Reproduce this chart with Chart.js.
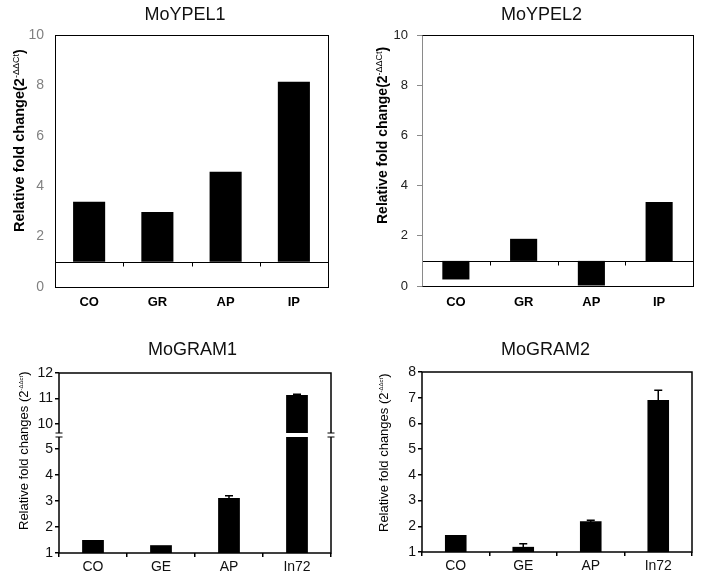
<!DOCTYPE html>
<html><head><meta charset="utf-8">
<script src="https://cdn.jsdelivr.net/npm/chart.js@4/dist/chart.umd.min.js"></script>
<style>
html,body{margin:0;padding:0;background:#fff;}
#wrap{position:relative;width:707px;height:578px;overflow:hidden;background:#fff;}
canvas{position:absolute;left:0;top:0;}
</style></head><body>
<div id="wrap">
<canvas id="c1" width="707" height="578"></canvas>
<canvas id="c2" width="707" height="578"></canvas>
<canvas id="c3" width="707" height="578"></canvas>
<canvas id="c4" width="707" height="578"></canvas>
</div>
<script>
// ---------- data ----------
const ypelCategories = ['CO', 'GR', 'AP', 'IP'];
const ypel1Values = [3.38, 2.98, 4.57, 8.14];
const ypel2Values = [0.26, 1.88, 0.02, 3.35];
const ypelTicks = [0, 2, 4, 6, 8, 10];

const gramCategories = ['CO', 'GE', 'AP', 'In72'];
const gram1Values = [1.5, 1.3, 3.12, 11.14];
const gram1Errors = [0, 0, 0.08, 0.03];
const gram1LowerTicks = [1, 2, 3, 4, 5];
const gram1UpperTicks = [10, 11, 12];
const gram2Values = [1.66, 1.2, 2.2, 6.91];
const gram2Errors = [0, 0.12, 0.03, 0.38];
const gram2Ticks = [1, 2, 3, 4, 5, 6, 7, 8];

const titles = ['MoYPEL1', 'MoYPEL2', 'MoGRAM1', 'MoGRAM2'];
const yTitleTop = ['Relative fold change(2', '-\u0394\u0394Ct', ')'];
const yTitleBottom = ['Relative fold changes (2', '-\u0394\u0394ct', ')'];

// ---------- styling helpers ----------
const FAM = '"Liberation Sans", Arial, sans-serif';

const decor = {
  id: 'decor',
  afterDatasetsDraw(chart, args, o) {
    const {ctx, chartArea: a, scales} = chart;
    ctx.save();
    // error bars
    chart.data.datasets.forEach((ds, d) => {
      if (!ds.errors) return;
      const meta = chart.getDatasetMeta(d);
      const ys = scales[meta.yAxisID];
      ds.data.forEach((v, i) => {
        const e = ds.errors[i];
        if (v == null || !e) return;
        const x = meta.data[i].x;
        const y1 = ys.getPixelForValue(v + e), y0 = ys.getPixelForValue(v - e);
        ctx.strokeStyle = '#000'; ctx.lineWidth = 1.5;
        ctx.beginPath();
        ctx.moveTo(x, y0); ctx.lineTo(x, y1);
        ctx.moveTo(x - o.cap, y1); ctx.lineTo(x + o.cap, y1);
        ctx.stroke();
      });
    });
    // baseline at value with ticks between categories
    if (o.baseline != null) {
      const y = Math.round(scales.y.getPixelForValue(o.baseline)) + 0.5;
      const xs = scales.x;
      ctx.strokeStyle = '#000'; ctx.lineWidth = 1;
      ctx.beginPath();
      ctx.moveTo(a.left, y); ctx.lineTo(a.right, y);
      for (let i = 0; i < xs.ticks.length - 1; i++) {
        const px = Math.round((xs.getPixelForValue(i) + xs.getPixelForValue(i + 1)) / 2) + 0.5;
        ctx.moveTo(px, y); ctx.lineTo(px, y + o.baseTick);
      }
      ctx.stroke();
    }
    // frame
    const lw = o.frameWidth;
    const off = lw === 1 ? 0.5 : 0;
    const L = Math.round(a.left) + off, R = Math.round(a.right) + off, T = Math.round(a.top) + off, B = Math.round(a.bottom) + off;
    ctx.lineWidth = lw; ctx.strokeStyle = '#000';
    ctx.strokeRect(L, T, R - L, B - T);
    if (o.leftColor) {
      ctx.strokeStyle = o.leftColor;
      ctx.beginPath(); ctx.moveTo(L, T); ctx.lineTo(L, B); ctx.stroke();
    }
    // axis break
    if (o.breakAxis) {
      const yb = scales[o.breakAxis].top;
      const g = o.breakGap;
      ctx.fillStyle = '#fff';
      ctx.fillRect(L - 5, yb - g / 2, R - L + 10, g);
      ctx.strokeStyle = '#000'; ctx.lineWidth = 1.2;
      ctx.beginPath();
      for (const x of [L, R]) {
        for (const yy of [yb - g / 2, yb + g / 2]) { ctx.moveTo(x - 3.5, yy); ctx.lineTo(x + 3.5, yy); }
      }
      ctx.stroke();
    }
    // chart title
    if (o.title) {
      ctx.font = o.title.font; ctx.fillStyle = '#111';
      ctx.textAlign = 'center'; ctx.textBaseline = 'middle';
      ctx.fillText(o.title.text, o.title.x, o.title.y);
    }
    // rotated y title with superscript
    if (o.yTitle) {
      const t = o.yTitle;
      ctx.translate(t.x, t.y); ctx.rotate(-Math.PI / 2);
      ctx.textBaseline = 'alphabetic'; ctx.textAlign = 'left'; ctx.fillStyle = t.color;
      let cx = 0;
      t.parts.forEach((p, i) => {
        ctx.font = t.fonts[i];
        ctx.fillText(p, cx, t.dys[i]);
        cx += ctx.measureText(p).width;
      });
    }
    ctx.restore();
  }
};

function fixedTicks(arr) { return s => { s.ticks = arr.map(v => ({value: v})); }; }
function fixW(w) { return s => { s.width = w; }; }
function fixH(h) { return s => { s.height = h; }; }

function baseOpts(pad, decorOpts) {
  return {
    responsive: false, animation: false, events: [],
    layout: {padding: pad},
    plugins: {
      legend: {display: false}, tooltip: {enabled: false}, title: {display: false},
      decor: decorOpts
    }
  };
}
const TITLE_FONT = '18px ' + FAM;

// ---------- Panel 1: MoYPEL1 ----------
(() => {
  const o = baseOpts({left: 0, right: 379, top: 35, bottom: 266}, {
    frameWidth: 1, baseline: 1, baseTick: 4, cap: 4,
    title: {text: titles[0], x: 185, y: 15, font: TITLE_FONT},
    yTitle: {x: 24, y: 232, color: '#000', parts: yTitleTop,
      fonts: ['bold 14.5px ' + FAM, '9px ' + FAM, 'bold 14.5px ' + FAM], dys: [0, -5, 0]}
  });
  o.scales = {
    x: {grid: {display: false, drawTicks: false}, border: {display: false},
      ticks: {font: {family: FAM, size: 13, weight: 'bold'}, color: '#000', padding: 8, autoSkip: false}, afterFit: fixH(25)},
    y: {min: 0, max: 10, grid: {display: false, drawTicks: false}, border: {display: false},
      ticks: {font: {family: FAM, size: 14}, color: '#808080', padding: 11, autoSkip: false},
      afterBuildTicks: fixedTicks(ypelTicks), afterFit: fixW(55)}
  };
  new Chart(document.getElementById('c1'), {
    type: 'bar',
    data: {labels: ypelCategories, datasets: [{data: ypel1Values, base: 1, backgroundColor: '#000',
      barPercentage: 0.47, categoryPercentage: 1}]},
    options: o, plugins: [decor]
  });
})();

// ---------- Panel 2: MoYPEL2 ----------
(() => {
  const o = baseOpts({left: 353, right: 14, top: 35, bottom: 267}, {
    frameWidth: 1, leftColor: '#8a8a8a', baseline: 1, baseTick: 4, cap: 4,
    title: {text: titles[1], x: 541.5, y: 15, font: TITLE_FONT},
    yTitle: {x: 386.5, y: 224, color: '#000', parts: yTitleTop,
      fonts: ['bold 14px ' + FAM, '9px ' + FAM, 'bold 14px ' + FAM], dys: [0, -5, 0]}
  });
  o.scales = {
    x: {grid: {display: false, drawTicks: false}, border: {display: false},
      ticks: {font: {family: FAM, size: 13, weight: 'bold'}, color: '#000', padding: 9, autoSkip: false}, afterFit: fixH(25)},
    y: {min: 0, max: 10, grid: {display: true, drawOnChartArea: false, drawTicks: true, tickLength: 5, color: '#8a8a8a'},
      border: {display: false},
      ticks: {font: {family: FAM, size: 13}, color: '#222', padding: 9, autoSkip: false},
      afterBuildTicks: fixedTicks(ypelTicks), afterFit: fixW(69)}
  };
  new Chart(document.getElementById('c2'), {
    type: 'bar',
    data: {labels: ypelCategories, datasets: [{data: ypel2Values, base: 1, backgroundColor: '#000',
      barPercentage: 0.4, categoryPercentage: 1}]},
    options: o, plugins: [decor]
  });
})();

// ---------- Panel 3: MoGRAM1 (broken axis) ----------
(() => {
  const lowerMax = 5.54, upperMin = 9.57;
  const o = baseOpts({left: 0, right: 376, top: 373, bottom: 0}, {
    frameWidth: 1.5, cap: 4, breakAxis: 'y', breakGap: 4,
    title: {text: titles[2], x: 192.5, y: 350, font: TITLE_FONT},
    yTitle: {x: 28, y: 530, color: '#000', parts: yTitleBottom,
      fonts: ['13px ' + FAM, '6px ' + FAM, '13px ' + FAM], dys: [0, -5, 0]}
  });
  const yCommon = {
    grid: {display: true, drawOnChartArea: false, drawTicks: true, tickLength: 4, color: '#000', lineWidth: 1.5},
    border: {display: false},
    ticks: {font: {family: FAM, size: 14}, color: '#111', padding: 2, includeBounds: false, autoSkip: false},
    afterFit: fixW(59), position: 'left', stack: 'g1'
  };
  o.scales = {
    x: {grid: {display: true, offset: true, drawOnChartArea: false, drawTicks: true, tickLength: 4, color: '#000', lineWidth: 1.5},
      border: {display: false},
      ticks: {font: {family: FAM, size: 14}, color: '#111', padding: 2, autoSkip: false}, afterFit: fixH(25)},
    y: Object.assign({}, yCommon, {min: 1, max: lowerMax, stackWeight: 118, afterBuildTicks: fixedTicks(gram1LowerTicks)}),
    yTop: Object.assign({}, yCommon, {min: upperMin, max: 12, stackWeight: 62, afterBuildTicks: fixedTicks(gram1UpperTicks)})
  };
  new Chart(document.getElementById('c3'), {
    type: 'bar',
    data: {labels: gramCategories, datasets: [
      {data: gram1Values, yAxisID: 'y', backgroundColor: '#000', barPercentage: 0.32, categoryPercentage: 1, grouped: false,
        errors: gram1Errors.map((e, i) => gram1Values[i] <= lowerMax ? e : 0)},
      {data: gram1Values.map(v => v >= upperMin ? v : null), yAxisID: 'yTop', backgroundColor: '#000', barPercentage: 0.32, categoryPercentage: 1, grouped: false,
        errors: gram1Errors.map((e, i) => gram1Values[i] >= upperMin ? e : 0)}
    ]},
    options: o, plugins: [decor]
  });
})();

// ---------- Panel 4: MoGRAM2 ----------
(() => {
  const o = baseOpts({left: 353, right: 15, top: 372, bottom: 0}, {
    frameWidth: 1.5, cap: 4,
    title: {text: titles[3], x: 545.5, y: 350, font: TITLE_FONT},
    yTitle: {x: 388, y: 532, color: '#000', parts: yTitleBottom,
      fonts: ['13px ' + FAM, '6px ' + FAM, '13px ' + FAM], dys: [0, -5, 0]}
  });
  o.scales = {
    x: {grid: {display: true, offset: true, drawOnChartArea: false, drawTicks: true, tickLength: 4, color: '#000', lineWidth: 1.5},
      border: {display: false},
      ticks: {font: {family: FAM, size: 14}, color: '#111', padding: 2, autoSkip: false}, afterFit: fixH(26)},
    y: {min: 1, max: 8,
      grid: {display: true, drawOnChartArea: false, drawTicks: true, tickLength: 4, color: '#000', lineWidth: 1.5},
      border: {display: false},
      ticks: {font: {family: FAM, size: 14}, color: '#111', padding: 2, autoSkip: false},
      afterBuildTicks: fixedTicks(gram2Ticks), afterFit: fixW(69)}
  };
  new Chart(document.getElementById('c4'), {
    type: 'bar',
    data: {labels: gramCategories, datasets: [{data: gram2Values, errors: gram2Errors, backgroundColor: '#000',
      barPercentage: 0.32, categoryPercentage: 1}]},
    options: o, plugins: [decor]
  });
})();
</script>
</body></html>
